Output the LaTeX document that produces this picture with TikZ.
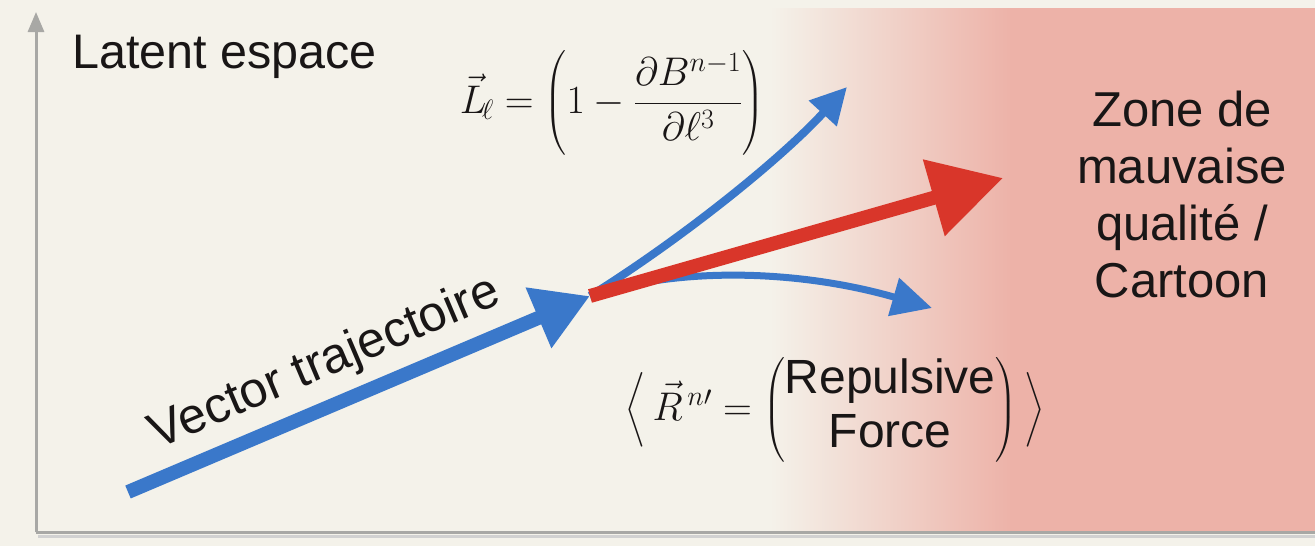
\RequirePackage{fix-cm}
\documentclass[tikz,border=0pt]{standalone}
\usepackage{amsmath}
\usepackage{fontspec}
\newfontfamily\lab{Liberation Sans}
\usetikzlibrary{arrows.meta}
\definecolor{cream}{RGB}{244,242,234}
\definecolor{pinkZ}{RGB}{237,178,168}
\definecolor{axisgray}{RGB}{168,168,165}
\definecolor{blueA}{RGB}{58,120,202}
\definecolor{redA}{RGB}{217,54,42}
\definecolor{inkA}{RGB}{25,22,22}
\begin{document}
\begin{tikzpicture}[x=1pt,y=-1pt,
  axisline/.style={draw=axisgray,line width=3pt},
  label/.style={text=inkA,inner sep=0pt},
  bluearrow/.style={draw=blueA},
  redarrow/.style={draw=redA}]
\useasboundingbox (0,0) rectangle (1315,546);
\fill[cream] (0,0) rectangle (1315,546);
% bad-quality zone
\shade[left color=cream,right color=pinkZ] (770,8) rectangle (1012,532);
\fill[pinkZ] (1010,8) rectangle (1315,532);
% axes
\coordinate (O) at (36,532);
\coordinate (ytop) at (36,12);
\coordinate (xend) at (1315,532);
\draw[black!18,line width=3pt] (38,536) -- (1315,536);
\draw[axisline] (O) -- (xend);
\draw[axisline,-{Triangle[length=20pt,width=16pt]}] (O) -- (ytop);
% texts
\node[label,anchor=base west,font=\lab\fontsize{48.5}{58}\selectfont] (latent) at (72,68) {Latent espace};
\node[label,font=\fontsize{40}{48}\selectfont] (f1) at (612,103)
  {$\displaystyle \vec{L}_{\!\ell}=\left(1-\frac{\partial B^{n-1}}{\partial \ell^{3}}\right)$};
\node[label,font=\fontsize{40}{50}\selectfont] (f2) at (835,410)
  {\renewcommand\arraystretch{1.08}$\left\langle\mkern3mu \vec{R}^{\,n\prime}=\begin{pmatrix}\text{\lab\fontsize{48}{50}\selectfont Repulsive}\\ \text{\lab\fontsize{48}{50}\selectfont Force}\end{pmatrix}\mkern3mu\right\rangle$};
\node[label,align=center,font=\lab\fontsize{49}{57}\selectfont] (zone) at (1182,194)
  {Zone de\\mauvaise\\qualité /\\Cartoon};
\node[label,rotate=23,font=\lab\fontsize{50}{60}\selectfont] (vt) at (325,364) {Vector trajectoire};
% arrows
\coordinate (tail) at (128,492);
\coordinate (hub) at (590,296);
\coordinate (redtip) at (1003,178);
\coordinate (uptip) at (847,87);
\coordinate (lowtip) at (932,308);
\draw[bluearrow,line width=8pt,-{Triangle[length=36pt,width=36pt]}]
  (hub) .. controls (680,240) and (780,160) .. (uptip);
\draw[bluearrow,line width=7pt,-{Triangle[length=40pt,width=38pt]}]
  (hub) .. controls (680,266) and (800,270) .. (lowtip);
\draw[bluearrow,line width=14pt,-{Triangle[length=56pt,width=62pt]}] (tail) -- (hub);
\draw[redarrow,line width=14pt,-{Triangle[length=72pt,width=76pt]}] (hub) -- (redtip);
\end{tikzpicture}
\end{document}
